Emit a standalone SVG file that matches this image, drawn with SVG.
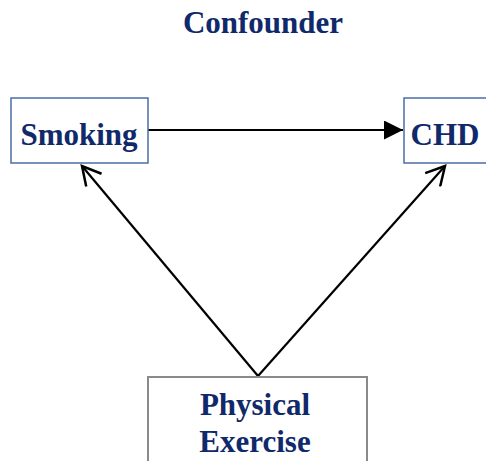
<svg xmlns="http://www.w3.org/2000/svg" width="486" height="461" viewBox="0 0 486 461">
<style>
.t{font-family:"Liberation Serif","Times New Roman",serif;font-weight:bold;fill:#10296a;text-anchor:middle}
.bx{fill:#fff;stroke:#4a6ea6;stroke-width:1.5}
.gx{fill:#fff;stroke:#8a8a8a;stroke-width:2}
.ln{stroke:#000;stroke-width:2.2;fill:none}
</style>
<defs>
<marker id="fill" viewBox="0 0 19 19" refX="19" refY="9.5" markerWidth="19" markerHeight="19" markerUnits="userSpaceOnUse" orient="auto">
<path d="M0,0 L19,9.5 L0,19 Z" fill="#000"/>
</marker>
<marker id="open" viewBox="0 0 22 22" refX="19.5" refY="11" markerWidth="22" markerHeight="22" markerUnits="userSpaceOnUse" orient="auto">
<path d="M1,1 L19.5,11 L1,21" fill="none" stroke="#000" stroke-width="2.5"/>
</marker>
</defs>
<text class="t" x="263" y="33" font-size="31">Confounder</text>
<g id="connectors">
<line class="ln" x1="148" y1="130" x2="403" y2="130" marker-end="url(#fill)"/>
<line class="ln" x1="258" y1="376" x2="82" y2="166" marker-end="url(#open)"/>
<line class="ln" x1="258" y1="376" x2="445" y2="166" marker-end="url(#open)"/>
</g>
<g id="smoking">
<rect class="bx" x="11" y="98" width="137" height="65"/>
<text class="t" x="79" y="145" font-size="31">Smoking</text>
</g>
<g id="chd">
<rect class="bx" x="404" y="98" width="90" height="65"/>
<text class="t" x="445" y="145" font-size="31">CHD</text>
</g>
<g id="exercise">
<rect class="gx" x="148" y="377" width="219" height="100"/>
<text class="t" x="255" y="415" font-size="31">Physical</text>
<text class="t" x="255" y="452" font-size="31">Exercise</text>
</g>
</svg>
